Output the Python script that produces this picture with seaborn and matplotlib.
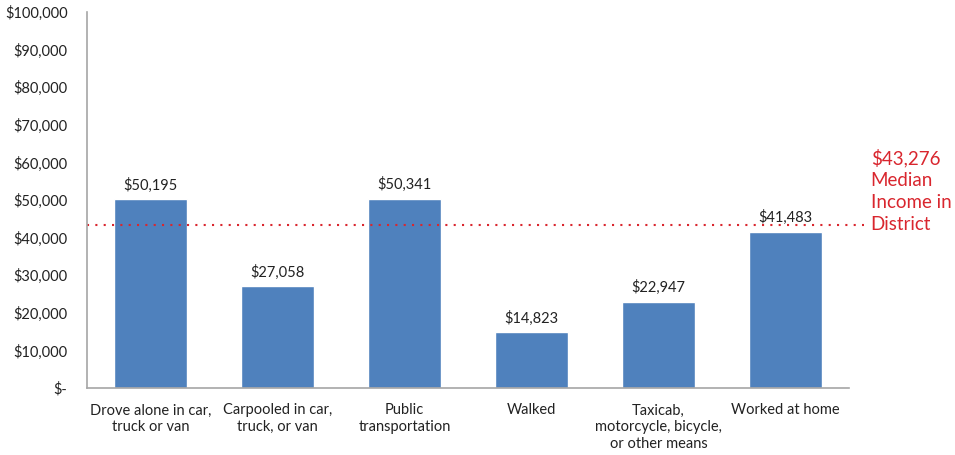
import pandas as pd
import numpy as np
import matplotlib.pyplot as plt
import matplotlib.ticker as mticker
import seaborn as sns

# datos
modes = ['Drove alone in car,\ntruck or van', 'Carpooled in car,\ntruck, or van',
         'Public\ntransportation', 'Walked',
         'Taxicab,\nmotorcycle, bicycle,\nor other means', 'Worked at home']
income = [50195, 27058, 50341, 14823, 22947, 41483]
median_income = 43276

df = pd.DataFrame({'mode': modes, 'income': income})

sns.set_style('white')
plt.rcParams['font.family'] = ['Lato', 'DejaVu Sans']

fig = plt.figure(figsize=(9.55, 4.55), dpi=100)
ax = fig.add_axes([0.091, 0.147, 0.798, 0.827])

sns.barplot(data=df, x='mode', y='income', color='#4F81BD', width=0.57,
            saturation=1, ax=ax)

for i, v in enumerate(income):
    ax.text(i, v + 1800, f'${v:,}', ha='center', va='bottom', fontsize=10.5, color='#222222')

ax.set_ylim(0, 100000)
ax.set_xlim(-0.5, len(modes) - 0.5)
ax.yaxis.set_major_locator(mticker.MultipleLocator(10000))
ax.yaxis.set_major_formatter(mticker.FuncFormatter(lambda v, p: '$-' if v == 0 else f'${v:,.0f}'))
ax.set_xlabel('')
ax.set_ylabel('')
ax.tick_params(axis='both', length=0, labelsize=10.5, colors='#222222')
ax.tick_params(axis='y', pad=14)
ax.tick_params(axis='x', pad=11)
for lbl in ax.get_xticklabels():
    lbl.set_linespacing(1.25)

for s in ['top', 'right']:
    ax.spines[s].set_visible(False)
for s in ['left', 'bottom']:
    ax.spines[s].set_color('#A6A6A6')
    ax.spines[s].set_linewidth(1.2)

# linea mediana
ax.plot([-0.5, 5.62], [median_income, median_income], linestyle=(0, (1, 3)),
        color='#D9262E', linewidth=1.5, clip_on=False)
ax.text(5.67, 52500, f'${median_income:,}\nMedian\nIncome in\nDistrict', color='#D9262E',
        fontsize=13.5, ha='left', va='center', linespacing=1.35)

fig.savefig('out.png', dpi=100)
